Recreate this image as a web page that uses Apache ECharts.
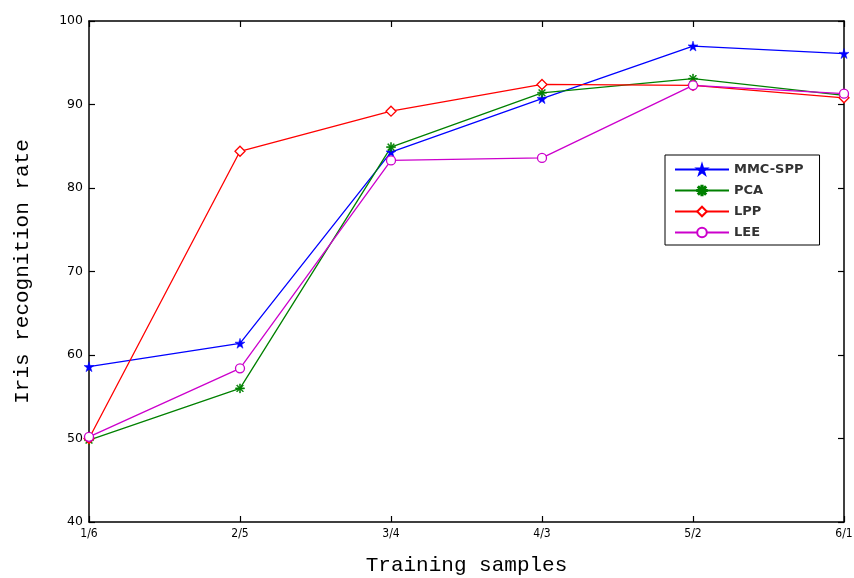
<!DOCTYPE html>
<html>
<head>
<meta charset="utf-8">
<script src="https://cdn.jsdelivr.net/npm/echarts@6/dist/echarts.min.js"></script>
<style>html,body{margin:0;padding:0;background:#fff;}#c{width:854px;height:578px;}</style>
</head>
<body>
<div id="c"></div>
<script>
var categories = ['1/6', '2/5', '3/4', '4/3', '5/2', '6/1'];
var mmcSpp = [58.6, 61.4, 84.3, 90.7, 97.0, 96.1];
var pca = [49.8, 56.0, 84.9, 91.4, 93.1, 91.1];
var lpp = [50.0, 84.4, 89.2, 92.4, 92.3, 90.8];
var lee = [50.2, 58.4, 83.3, 83.6, 92.3, 91.3];
var yTicks = [40, 50, 60, 70, 80, 90, 100];

var starPath = 'path://M50,0 L61,35 L98,35 L68,57 L79,91 L50,70 L21,91 L32,57 L2,35 L39,35 Z';
var astPath = 'path://M44,0H56V100H44Z M0,44H100V56H0Z M10,18L18,10L90,82L82,90Z M82,10L90,18L18,90L10,82Z';

function mk(name, data, color, symbol, size, hollow) {
  return {
    name: name, type: 'line', data: data,
    symbol: symbol, symbolSize: size,
    showSymbol: true,
    lineStyle: {color: color, width: 1.3},
    itemStyle: hollow ? {color: '#fff', borderColor: color, borderWidth: 1.3} : {color: color, borderColor: color, borderWidth: 0.5},
    z: 3
  };
}

var chart = echarts.init(document.getElementById('c'), null, {renderer: 'canvas'});
var axLine = {show: true, lineStyle: {color: '#000', width: 1.5}};
chart.setOption({
  animation: false,
  backgroundColor: '#fff',
  grid: {left: 89, right: 10, top: 21, bottom: 56, containLabel: false, outerBoundsMode: 'none'},
  legend: {
    orient: 'vertical', left: 665, top: 155,
    data: ['MMC-SPP', 'PCA', 'LPP', 'LEE'],
    backgroundColor: '#fff', borderColor: '#000', borderWidth: 1,
    padding: [8, 16, 6, 9], itemGap: 8, itemWidth: 54, itemHeight: 12,
    textStyle: {fontFamily: 'DejaVu Sans', fontSize: 13, fontWeight: 'bold', color: '#333', padding: [0, 0, 0, 0]}
  },
  xAxis: [{
    type: 'category', data: categories, boundaryGap: false,
    name: 'Training samples', nameLocation: 'middle', nameGap: 33,
    nameTextStyle: {fontFamily: 'Liberation Mono', fontSize: 21, color: '#000'},
    axisLine: axLine,
    axisTick: {show: true, inside: true, length: 6, lineStyle: {color: '#000', width: 1.2}},
    axisLabel: {fontFamily: 'DejaVu Sans Condensed', fontSize: 12, color: '#000', margin: 6},
    splitLine: {show: false}
  }, {
    type: 'category', data: categories, boundaryGap: false, position: 'top',
    axisLine: axLine,
    axisTick: {show: true, inside: true, length: 6, lineStyle: {color: '#000', width: 1.2}},
    axisLabel: {show: false}, splitLine: {show: false}
  }],
  yAxis: [{
    type: 'value', min: 40, max: 100, interval: 10,
    name: 'Iris recognition rate', nameLocation: 'middle', nameGap: 56,
    nameTextStyle: {fontFamily: 'Liberation Mono', fontSize: 21, color: '#000'},
    axisLine: axLine,
    axisTick: {show: true, inside: true, length: 6, lineStyle: {color: '#000', width: 1.2}},
    axisLabel: {fontFamily: 'DejaVu Sans', fontSize: 12.5, color: '#000', margin: 6,
      formatter: function (v) { return yTicks.indexOf(v) >= 0 ? String(v) : ''; }},
    splitLine: {show: false}
  }, {
    type: 'value', min: 40, max: 100, interval: 10, position: 'right',
    axisLine: axLine,
    axisTick: {show: true, inside: true, length: 6, lineStyle: {color: '#000', width: 1.2}},
    axisLabel: {show: false}, splitLine: {show: false}
  }],
  series: [
    mk('MMC-SPP', mmcSpp, '#0000ff', starPath, 10, false),
    mk('PCA', pca, '#008000', astPath, 9, false),
    mk('LPP', lpp, '#ff0000', 'diamond', 10, true),
    mk('LEE', lee, '#cc00cc', 'circle', 9, true)
  ]
});
</script>
</body>
</html>
